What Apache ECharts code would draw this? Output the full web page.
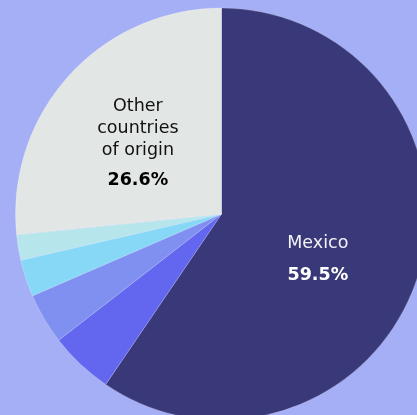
<!DOCTYPE html>
<html>
<head>
<meta charset="utf-8">
<script src="https://cdn.jsdelivr.net/npm/echarts@6/dist/echarts.min.js"></script>
<style>
html,body{margin:0;padding:0;background:#a5aff5;}
#c{width:417px;height:415px;}
</style>
</head>
<body>
<div id="c"></div>
<script>
const categories = ["Mexico", "Origin 2", "Origin 3", "Origin 4", "Origin 5", "Other countries of origin"];
const values = [59.5, 5.0, 4.0, 2.9, 2.0, 26.6];
const colors = ["#393979", "#6366ee", "#7f90f0", "#87d8f7", "#b7e5ec", "#e2e6e4"];
const labelNames = {"Mexico": ["Mexico"], "Other countries of origin": ["Other", "countries", "of origin"]};

const FONT = '"DejaVu Sans", Verdana, sans-serif';
const chart = echarts.init(document.getElementById('c'));
const data = categories.map((c, i) => {
  const item = { name: c, value: values[i], itemStyle: { color: colors[i] } };
  if (labelNames[c]) {
    const dark = c === "Mexico";
    item.label = {
      show: true,
      position: 'inside',
      offset: dark ? [-5, 19.5] : [-5, 4.7],
      formatter: (p) => labelNames[p.name].map(s => '{n|' + s + '}').join('\n') + '\n{v|' + p.value.toFixed(1) + '%}',
      rich: {
        n: { fontSize: 17.5, lineHeight: 22, color: dark ? '#f2f2f7' : '#111111', fontFamily: FONT, align: 'center' },
        v: { fontSize: 17.5, fontWeight: 'bold', lineHeight: dark ? 42 : 38, color: dark ? '#ffffff' : '#000000', fontFamily: FONT, align: 'center' }
      }
    };
  } else {
    item.label = { show: false };
  }
  return item;
});

chart.setOption({
  backgroundColor: '#a5aff5',
  animation: false,
  series: [{
    type: 'pie',
    center: [221.5, 214],
    radius: [0, 206],
    startAngle: 90,
    clockwise: true,
    labelLine: { show: false },
    itemStyle: { borderColor: 'rgba(255,255,255,0.35)', borderWidth: 0.6 },
    emphasis: { disabled: true },
    data: data
  }]
});
</script>
</body>
</html>
